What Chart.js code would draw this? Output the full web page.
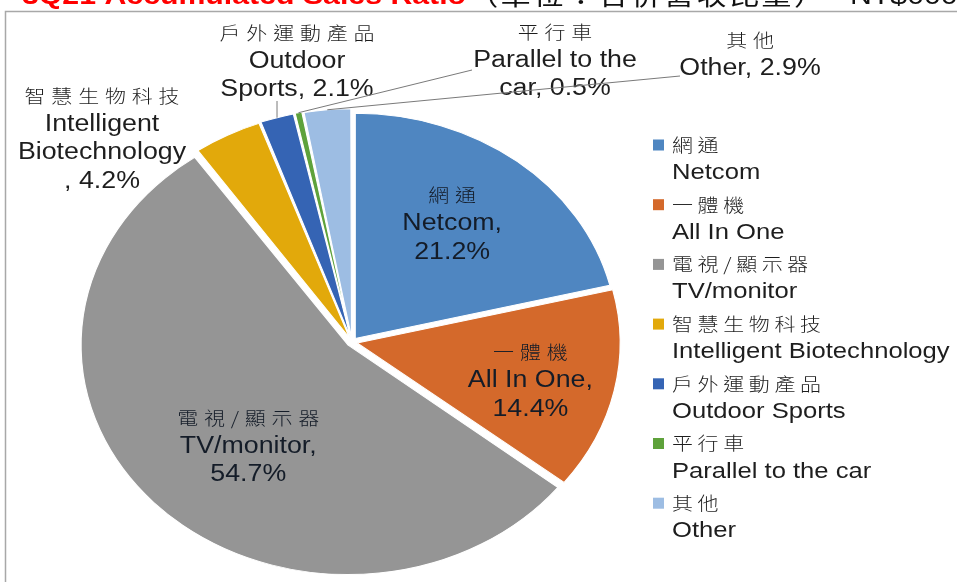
<!DOCTYPE html>
<html><head><meta charset="utf-8">
<script src="https://cdn.jsdelivr.net/npm/chart.js@4"></script>
<style>html,body{margin:0;padding:0;background:#fff;overflow:hidden}#wrap{width:957px;height:582px;position:relative}</style>
</head><body><div id="wrap"><canvas id="c" width="957" height="582"></canvas></div>
<script>
// ---- data ----
const categoriesZh = ['網通','一體機','電視/顯示器','智慧生物科技','戶外運動產品','平行車','其他'];
const categoriesEn = ['Netcom','All In One','TV/monitor','Intelligent Biotechnology','Outdoor Sports','Parallel to the car','Other'];
const shares = [21.2, 14.4, 54.7, 4.2, 2.1, 0.5, 2.9];
// data-label wrapping ({p} = share)
const labelWrap = ['Netcom,|{p}', 'All In One,|{p}', 'TV/monitor,|{p}', 'Intelligent|Biotechnology|, {p}', 'Outdoor|Sports, {p}', 'Parallel to the|car, {p}', 'Other, {p}'];
const titleText = '3Q21 Accumulated Sales Ratio';
const subtitleText = '（單位：合併營收比重）';
const unitText = 'NT$000';

// ---- styles / layout ----
const colors = ['#4f86c1','#d4692b','#959595','#e2a90b','#3564b4','#5ea23b','#9dbde3'];
const SX = 1.164;               // horizontal stretch of the original picture
const OFFSET = 18;
const EN_FONT = '"Liberation Sans", Arial, sans-serif';
const ZH_FONT = '"Noto Sans CJK TC", sans-serif';
// outside labels: index -> first line centre, leader start
const outside = {
  3: {x: 102, y: 96, leader: null},
  4: {x: 297, y: 33, leader: [277, 101]},
  5: {x: 555, y: 32, leader: [472, 70]},
  6: {x: 750, y: 40, leader: [680, 76]}
};
// small nudges of the inside labels (px)
const insideNudge = {0: [-5, -3], 1: [12, 8], 2: [20, 4]};
const LINE_H = 28.5;

function drawText(ctx, str, x, y, align, font, spacing, color) {
  ctx.save();
  ctx.font = font;
  ctx.letterSpacing = (spacing || 0) + 'px';
  ctx.textBaseline = 'middle';
  ctx.fillStyle = color || '#1e1e1e';
  ctx.translate(x, y);
  ctx.scale(SX, 1);
  const w = ctx.measureText(str).width - (spacing || 0);
  ctx.textAlign = 'left';
  const dx = align === 'center' ? -w / 2 : 0;
  ctx.fillText(str, dx, 0);
  ctx.restore();
}
function isZh(s){ return /[\u3000-\u9fff\uff00-\uffef]/.test(s); }

function labelLines(i) {
  const en = labelWrap[i].replace('{p}', shares[i].toFixed(1) + '%').split('|');
  return [categoriesZh[i]].concat(en);
}
// same displacement Chart.js applies to an offset arc
function arcShift(p, off) {
  const c = p.endAngle - p.startAngle;
  const base = off / 4;
  const fix = 1 - Math.sin(Math.min(Math.PI, c));
  return base * (1 + fix);
}

const stretchPlugin = {
  id: 'stretch',
  beforeDatasetsDraw(chart) {
    const a = chart.getDatasetMeta(0).data[0];
    const ctx = chart.ctx;
    ctx.save();
    ctx.translate(a.x, a.y); ctx.scale(SX, 1); ctx.translate(-a.x, -a.y);
  },
  afterDatasetsDraw(chart) { chart.ctx.restore(); }
};

const framePlugin = {
  id: 'frame',
  beforeDraw(chart) {
    const ctx = chart.ctx;
    ctx.save();
    ctx.fillStyle = '#fff'; ctx.fillRect(0, 0, chart.width, chart.height);
    ctx.strokeStyle = '#a8a8a8'; ctx.lineWidth = 1.5;
    ctx.strokeRect(5.5, 11.5, 2000, 2000);
    ctx.restore();
    drawText(ctx, titleText, 22, -3, 'left', 'bold 26px ' + EN_FONT, 0, '#ff0000');
    drawText(ctx, subtitleText, 468, -5, 'left', '26px ' + ZH_FONT, 2, '#111');
    drawText(ctx, unitText, 850, -3, 'left', '26px ' + EN_FONT, 0, '#111');
  }
};

const labelPlugin = {
  id: 'labels',
  afterDraw(chart) {
    const ctx = chart.ctx;
    const meta = chart.getDatasetMeta(0);
    const off = chart.data.datasets[0].offset;
    meta.data.forEach((arc, i) => {
      const p = arc.getProps(['x','y','startAngle','endAngle','outerRadius']);
      const mid = (p.startAngle + p.endAngle) / 2;
      const lines = labelLines(i);
      if (outside[i]) {
        const o = outside[i];
        if (o.leader) {
          const r = p.outerRadius + arcShift(p, off);
          const ex = p.x + Math.cos(mid) * r * SX;
          const ey = p.y + Math.sin(mid) * r;
          ctx.save();
          ctx.strokeStyle = '#7a7a7a'; ctx.lineWidth = 1;
          ctx.beginPath(); ctx.moveTo(o.leader[0], o.leader[1]); ctx.lineTo(ex, ey); ctx.stroke();
          ctx.restore();
        }
        lines.forEach((s, k) => {
          const zh = isZh(s);
          drawText(ctx, s, o.x, o.y + k * LINE_H, 'center',
            zh ? '300 18px ' + ZH_FONT : '23px ' + EN_FONT, zh ? 5 : 0);
        });
      } else {
        const f = 0.65;
        const n = insideNudge[i] || [0, 0];
        const cx = p.x + Math.cos(mid) * p.outerRadius * f * SX + n[0];
        const cy = p.y + Math.sin(mid) * p.outerRadius * f + n[1];
        const y0 = cy - (lines.length - 1) / 2 * LINE_H;
        lines.forEach((s, k) => {
          const zh = isZh(s);
          drawText(ctx, s, cx, y0 + k * LINE_H, 'center',
            zh ? '300 18px ' + ZH_FONT : '23px ' + EN_FONT, zh ? 5 : 0, '#141c28');
        });
      }
    });
    // legend
    categoriesZh.forEach((zh, i) => {
      const y = 145 + i * 59.7;
      ctx.save(); ctx.fillStyle = colors[i]; ctx.fillRect(653, y - 5.5, 11, 11); ctx.restore();
      drawText(ctx, zh, 672, y, 'left', '300 18px ' + ZH_FONT, 4);
      drawText(ctx, categoriesEn[i], 672, y + 28, 'left', '22px ' + EN_FONT, 0);
    });
  }
};

new Chart(document.getElementById('c'), {
  type: 'pie',
  data: {
    labels: categoriesEn,
    datasets: [{
      data: shares,
      backgroundColor: colors,
      borderColor: '#ffffff',
      borderWidth: 1,
      offset: OFFSET
    }]
  },
  options: {
    responsive: false,
    animation: false,
    events: [],
    radius: 225,
    layout: { padding: { left: 0, right: 253, top: 102, bottom: 0 } },
    plugins: { legend: { display: false }, tooltip: { enabled: false } }
  },
  plugins: [framePlugin, stretchPlugin, labelPlugin]
});
</script>
</body></html>
